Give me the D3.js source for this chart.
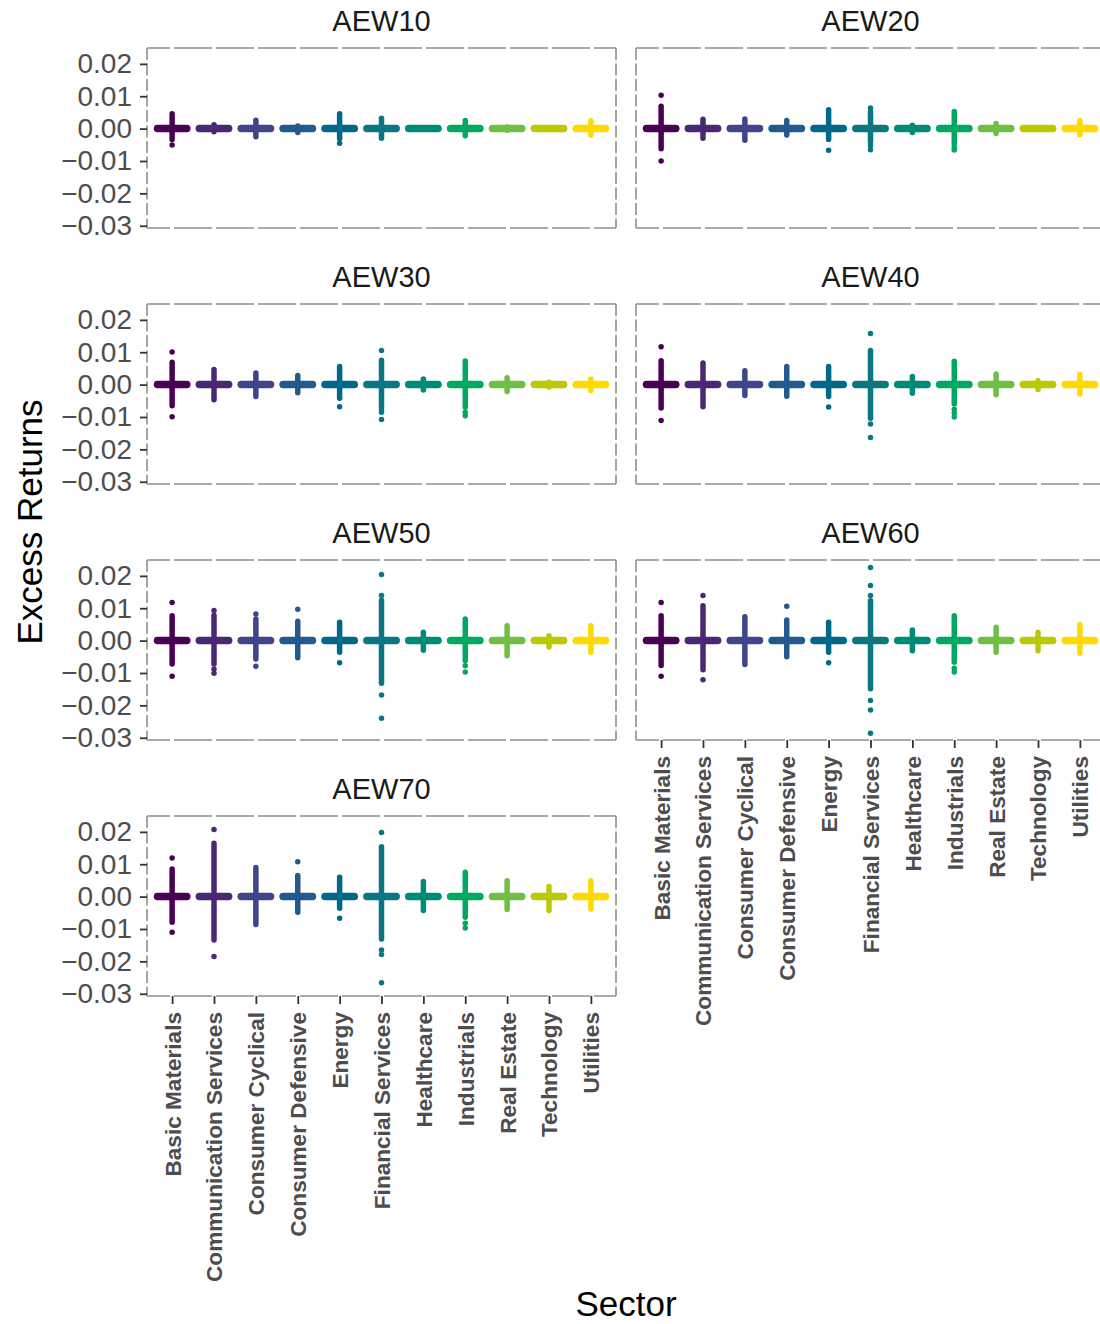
<!DOCTYPE html>
<html>
<head>
<meta charset="utf-8">
<script src="https://cdn.jsdelivr.net/npm/d3@7"></script>
<style>
  body { margin: 0; background: #fff; }
  text { font-family: "Liberation Sans", Arial, sans-serif; }
</style>
</head>
<body>
<div id="chart"></div>
<script>
// Sectors, facets and tick values
const sectors = ["Basic Materials", "Communication Services", "Consumer Cyclical",
  "Consumer Defensive", "Energy", "Financial Services", "Healthcare", "Industrials",
  "Real Estate", "Technology", "Utilities"];
const panels = ["AEW10", "AEW20", "AEW30", "AEW40", "AEW50", "AEW60", "AEW70"];
const yTicks = [0.02, 0.01, 0.00, -0.01, -0.02, -0.03];
const sectorColors = ["#4a0055", "#4b2874", "#3f4589", "#22598e", "#00688a", "#0a7682",
  "#008b78", "#00a862", "#6fbf45", "#bbca05", "#ffda00"];

// dense part of each sector's column of points: [low, high]
const aew10Stems = [[-0.0034, 0.0046], [-0.001, 0.0012], [-0.0025, 0.0026], [-0.0012, 0.0008],
  [-0.0031, 0.0046], [-0.003, 0.0032], [0, 0], [-0.0022, 0.0025], [-0.0005, 0.0005], [0, 0], [-0.002, 0.0024]];
const aew20Stems = [[-0.0062, 0.0069], [-0.003, 0.0029], [-0.0036, 0.003], [-0.002, 0.0025],
  [-0.0034, 0.0058], [-0.0042, 0.0052], [-0.0012, 0.001], [-0.0048, 0.0053], [-0.0015, 0.0016], [-0.0003, 0.0003], [-0.0019, 0.0025]];
const aew30Stems = [[-0.0065, 0.0069], [-0.0047, 0.0047], [-0.0037, 0.0036], [-0.0025, 0.0028],
  [-0.0042, 0.0056], [-0.0068, 0.0075], [-0.0017, 0.0017], [-0.007, 0.0073], [-0.0021, 0.0021], [-0.0007, 0.0007], [-0.0018, 0.0017]];
const aew40Stems = [[-0.0072, 0.0074], [-0.0068, 0.0067], [-0.0034, 0.0043], [-0.0036, 0.0056],
  [-0.0037, 0.0056], [-0.0104, 0.0105], [-0.0027, 0.0025], [-0.006, 0.0072], [-0.0031, 0.0033], [-0.0015, 0.0012], [-0.0029, 0.0031]];
const aew50Stems = [[-0.0072, 0.0077], [-0.0072, 0.0078], [-0.0057, 0.0067], [-0.0053, 0.006],
  [-0.0036, 0.0057], [-0.0132, 0.0125], [-0.003, 0.0026], [-0.0062, 0.0067], [-0.0047, 0.0046], [-0.002, 0.0015], [-0.0036, 0.0046]];
const aew60Stems = [[-0.0077, 0.0077], [-0.009, 0.0108], [-0.0074, 0.0074], [-0.005, 0.0064],
  [-0.0036, 0.0057], [-0.0149, 0.0123], [-0.0031, 0.0033], [-0.0067, 0.0077], [-0.0036, 0.0041], [-0.0031, 0.0026], [-0.0039, 0.0049]];
const aew70Stems = [[-0.0079, 0.0085], [-0.0134, 0.0165], [-0.0086, 0.009], [-0.0048, 0.0065],
  [-0.0036, 0.006], [-0.0131, 0.0154], [-0.0043, 0.0047], [-0.0064, 0.0075], [-0.004, 0.0049], [-0.0043, 0.0031], [-0.0038, 0.0049]];

// isolated points outside the dense part
const aew10Outliers = [[-0.0051], [], [], [], [-0.0045], [], [], [], [], [], []];
const aew20Outliers = [[0.0103, -0.0100], [], [], [], [-0.0067], [0.0064, -0.0053, -0.0065], [], [-0.0058, -0.0066], [], [], []];
const aew30Outliers = [[0.0101, -0.0099], [], [], [], [-0.0068], [0.0105, -0.0077, -0.0085, -0.0108], [], [-0.0085, -0.0096], [], [], []];
const aew40Outliers = [[0.0117, -0.0111], [], [], [], [-0.0069], [0.0158, -0.0122, -0.0163], [], [-0.0076, -0.0088, -0.0100], [], [], []];
const aew50Outliers = [[0.0118, -0.011], [0.0093, -0.0088, -0.0101], [0.0082, -0.0079], [0.0097], [-0.0068],
  [0.0204, 0.0139, -0.0168, -0.024], [], [-0.0078, -0.0097], [], [], []];
const aew60Outliers = [[0.0118, -0.011], [0.0139, -0.0121], [], [0.0106], [-0.0068],
  [0.0226, 0.017, 0.0139, -0.0185, -0.0214, -0.0286], [], [-0.0085, -0.0097], [], [], []];
const aew70Outliers = [[0.0119, -0.011], [0.0207, -0.0185], [], [0.0108], [-0.0067],
  [0.0198, -0.0165, -0.0179, -0.0266], [], [-0.0082, -0.0097], [], [], []];

const stems = [aew10Stems, aew20Stems, aew30Stems, aew40Stems, aew50Stems, aew60Stems, aew70Stems];
const outliers = [aew10Outliers, aew20Outliers, aew30Outliers, aew40Outliers, aew50Outliers, aew60Outliers, aew70Outliers];

// layout
const width = 1100, height = 1324;
const panelW = 469, panelH = 180;
const colX = [147, 636];
const rowY = [48, 304, 560, 816];
const jitter = 0.35; // horizontal spread of the zero cluster, in steps

const svg = d3.select("#chart").append("svg")
  .attr("width", width)
  .attr("height", height);

const x = d3.scalePoint().domain(sectors).range([0, panelW]).padding(0.6);
const y = d3.scaleLinear().domain([-0.0307, 0.0249]).range([panelH, 0]);
const color = d3.scaleOrdinal().domain(sectors).range(sectorColors);
const fmt = d3.format(".2f");

panels.forEach((name, i) => {
  const col = i % 2, row = Math.floor(i / 2);
  const g = svg.append("g").attr("transform", `translate(${colX[col]}, ${rowY[row]})`);

  // strip title
  g.append("text")
    .attr("x", panelW / 2)
    .attr("y", -17)
    .attr("text-anchor", "middle")
    .attr("font-size", 29)
    .attr("fill", "#1a1a1a")
    .text(name);

  // points: zero cluster, dense column, isolated points
  const rows = sectors.map((s, j) => ({ sector: s, stem: stems[i][j], out: outliers[i][j] }));
  const step = x.step();

  g.selectAll(".zero").data(rows).enter().append("line")
    .attr("x1", d => x(d.sector) - jitter * step)
    .attr("x2", d => x(d.sector) + jitter * step)
    .attr("y1", y(0)).attr("y2", y(0))
    .attr("stroke", d => color(d.sector))
    .attr("stroke-width", 7.5)
    .attr("stroke-linecap", "round");

  g.selectAll(".stem").data(rows.filter(d => d.stem[0] !== d.stem[1])).enter().append("line")
    .attr("x1", d => x(d.sector)).attr("x2", d => x(d.sector))
    .attr("y1", d => y(d.stem[0])).attr("y2", d => y(d.stem[1]))
    .attr("stroke", d => color(d.sector))
    .attr("stroke-width", 5.5)
    .attr("stroke-linecap", "round");

  g.selectAll(".out").data(rows.flatMap(d => d.out.map(v => ({ sector: d.sector, v })))).enter()
    .append("circle")
    .attr("cx", d => x(d.sector))
    .attr("cy", d => y(d.v))
    .attr("r", 2.75)
    .attr("fill", d => color(d.sector));

  // dashed panel border
  const border = g.append("g").attr("stroke", "#8f8f8f").attr("stroke-width", 1.6).attr("fill", "none");
  border.append("line").attr("x1", 0).attr("x2", panelW).attr("y1", 0).attr("y2", 0)
    .attr("stroke-dasharray", "38,4").attr("stroke-dashoffset", 15);
  border.append("line").attr("x1", 0).attr("x2", panelW).attr("y1", panelH).attr("y2", panelH)
    .attr("stroke-dasharray", "38,4").attr("stroke-dashoffset", 15);
  border.append("line").attr("x1", 0).attr("x2", 0).attr("y1", 0).attr("y2", panelH)
    .attr("stroke-dasharray", "12,3.5");
  border.append("line").attr("x1", panelW).attr("x2", panelW).attr("y1", 0).attr("y2", panelH)
    .attr("stroke-dasharray", "12,3.5");

  // y axis on the left column
  if (col === 0) {
    const ya = g.append("g")
      .call(d3.axisLeft(y).tickValues(yTicks).tickSize(7).tickPadding(8).tickFormat(fmt));
    ya.select(".domain").remove();
    ya.selectAll(".tick line").attr("stroke", "#333").attr("stroke-width", 1.8);
    ya.selectAll(".tick text").attr("font-size", 28).attr("fill", "#4d4d4d")
      .attr("font-family", "Liberation Sans, Arial, sans-serif");
  }

  // x axis under the last panel of each column
  if (name === "AEW70" || name === "AEW60") {
    const xa = g.append("g").attr("transform", `translate(0, ${panelH})`)
      .call(d3.axisBottom(x).tickSize(8));
    xa.select(".domain").remove();
    xa.selectAll(".tick line").attr("stroke", "#333").attr("stroke-width", 1.8);
    xa.selectAll(".tick text")
      .attr("transform", "rotate(-90)")
      .attr("text-anchor", "end")
      .attr("x", -16).attr("y", 0).attr("dy", "0.35em")
      .attr("font-size", 22.6).attr("font-weight", "bold").attr("fill", "#4d4d4d")
      .attr("font-family", "Liberation Sans, Arial, sans-serif");
  }
});

// axis titles
svg.append("text")
  .attr("transform", `translate(42, ${(rowY[0] + rowY[3] + panelH) / 2}) rotate(-90)`)
  .attr("text-anchor", "middle")
  .attr("font-size", 35)
  .attr("fill", "#000")
  .text("Excess Returns");

svg.append("text")
  .attr("x", (colX[0] + colX[1] + panelW) / 2)
  .attr("y", 1316)
  .attr("text-anchor", "middle")
  .attr("font-size", 35)
  .attr("fill", "#000")
  .text("Sector");
</script>
</body>
</html>
